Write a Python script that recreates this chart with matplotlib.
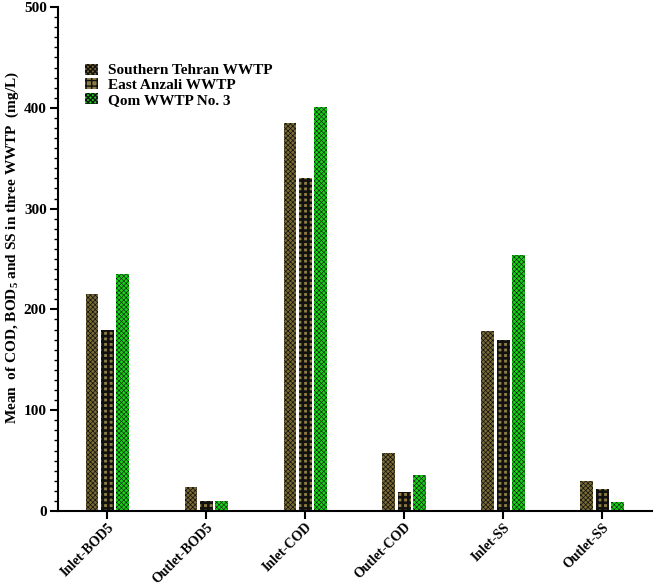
import matplotlib
matplotlib.use('Agg')
import matplotlib.pyplot as plt
import numpy as np

# data
categories = ['Inlet-BOD5', 'Outlet-BOD5', 'Inlet-COD', 'Outlet-COD', 'Inlet-SS', 'Outlet-SS']
southern_tehran = [215, 24, 385, 58, 179, 30]
east_anzali = [180, 10, 330, 19, 170, 22]
qom_no3 = [235, 10, 401, 36, 254, 9]
series_names = ['Southern Tehran WWTP', 'East Anzali WWTP', 'Qom WWTP No. 3']

plt.rcParams['font.family'] = ['Liberation Serif', 'DejaVu Serif']
plt.rcParams['font.weight'] = 'bold'
plt.rcParams['mathtext.fontset'] = 'custom'
plt.rcParams['mathtext.rm'] = 'Liberation Serif:bold'
plt.rcParams['mathtext.bf'] = 'Liberation Serif:bold'

fig = plt.figure(figsize=(6.57, 5.88), dpi=100)
ax = fig.add_axes([0.088, 0.131, 0.904, 0.857])

x = np.arange(len(categories))
w = 0.13
off = 0.155

# (face colour, hatch, hatch line width)
styles = [
    ('#7a6a34', 'xxxxxxx', 0.5),
    ('#8c7c42', '+++', 1.9),
    ('#16d216', 'xxxxxxx', 0.4),
]
for i, vals in enumerate([southern_tehran, east_anzali, qom_no3]):
    fc, hatch, hlw = styles[i]
    with plt.rc_context({'hatch.linewidth': hlw}):
        ax.bar(x + (i - 1) * off, vals, width=w, facecolor=fc,
               edgecolor='#111111', hatch=hatch, linewidth=0,
               label=series_names[i])

ax.set_xlim(-0.5, 5.5)
ax.set_ylim(0, 500)
ax.set_xticks(x)
ax.set_xticklabels(categories, rotation=45, ha='right', rotation_mode='anchor',
                   fontsize=10, fontweight='bold')
ax.set_yticks(np.arange(0, 501, 100))
ax.set_yticks(np.arange(0, 501, 10), minor=True)
ax.tick_params(axis='y', labelsize=11, width=1.5, length=6, pad=2)
ax.tick_params(axis='y', which='minor', width=1.0, length=3)
ax.tick_params(axis='x', width=1.5, length=6, pad=1)
for lab in ax.get_yticklabels():
    lab.set_fontweight('bold')

for s in ['top', 'right']:
    ax.spines[s].set_visible(False)
for s in ['left', 'bottom']:
    ax.spines[s].set_linewidth(1.5)

fig.text(12 / 657, 1 - 248 / 588,
         'Mean  of COD, BOD$_5$ and SS in three WWTP  (mg/L)',
         rotation=90, ha='center', va='center', fontsize=11, fontweight='bold')

leg = ax.legend(loc='upper left', bbox_to_anchor=(0.035, 0.90), frameon=False,
                handlelength=0.85, handleheight=0.75,
                handletextpad=0.7, labelspacing=0.05, borderaxespad=0,
                prop={'weight': 'bold', 'size': 11})

fig.savefig('out.png', dpi=100, facecolor='white')
